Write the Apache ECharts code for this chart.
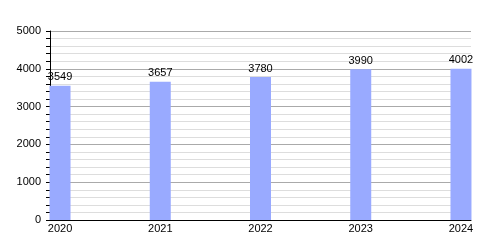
<!DOCTYPE html>
<html>
<head>
<meta charset="utf-8">
<script src="https://cdn.jsdelivr.net/npm/echarts@6/dist/echarts.min.js"></script>
<style>html,body{margin:0;padding:0;background:#fff}#c{width:500px;height:250px}</style>
</head>
<body>
<div id="c"></div>
<script>
const years = [2020, 2021, 2022, 2023, 2024];
const values = [3549, 3657, 3780, 3990, 4002];
const yMin = 0, yMax = 5000, yInterval = 1000;

const chart = echarts.init(document.getElementById('c'), null, {renderer: 'canvas'});
const font = 'Liberation Sans, Arial, sans-serif';
chart.setOption({
  animation: false,
  grid: {left: 50, right: 29, top: 31, bottom: 30},
  xAxis: {
    type: 'value',
    min: years[0] - 0.1,
    max: years[years.length - 1] + 0.1,
    axisLine: {show: true, lineStyle: {color: '#000', width: 1}},
    axisTick: {show: false},
    splitLine: {show: false},
    axisLabel: {
      customValues: years,
      formatter: v => String(v),
      color: '#000', fontSize: 11, fontFamily: font, margin: 3
    }
  },
  yAxis: {
    type: 'value',
    min: yMin, max: yMax, interval: yInterval,
    axisLine: {show: true, lineStyle: {color: '#000', width: 1}},
    axisTick: {show: true, length: 4, lineStyle: {color: '#000'}},
    minorTick: {show: true, splitNumber: 5, length: 4, lineStyle: {color: '#000'}},
    splitLine: {show: true, lineStyle: {color: '#aaa', width: 1}},
    minorSplitLine: {show: true, lineStyle: {color: '#ddd', width: 1}},
    axisLabel: {color: '#000', fontSize: 11, fontFamily: font, margin: 9,
      formatter: v => String(v)}
  },
  series: [{
    type: 'bar',
    barWidth: 21,
    data: years.map((y, i) => [y, values[i]]),
    itemStyle: {color: '#99aaff'},
    label: {
      show: true, position: 'top', distance: 3,
      color: '#000', fontSize: 11, fontFamily: font,
      formatter: p => String(p.value[1])
    }
  }]
});
</script>
</body>
</html>
